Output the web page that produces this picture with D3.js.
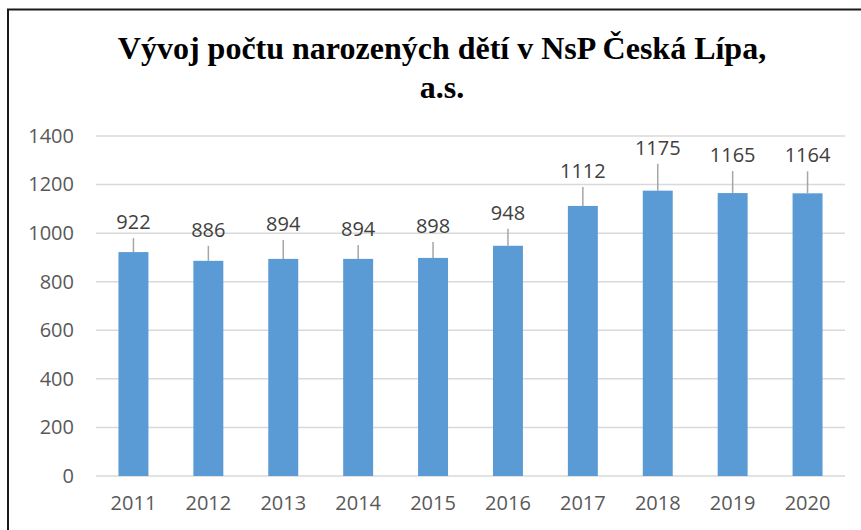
<!DOCTYPE html>
<html>
<head>
<meta charset="utf-8">
<script src="https://cdn.jsdelivr.net/npm/d3@7"></script>
<style>
  body { margin: 0; background: #fff; }
  svg { display: block; }
</style>
</head>
<body>
<svg id="chart" width="861" height="530"></svg>
<script>
var years = ['2011', '2012', '2013', '2014', '2015', '2016', '2017', '2018', '2019', '2020']
var births = [922, 886, 894, 894, 898, 948, 1112, 1175, 1165, 1164]
var yTicks = [0, 200, 400, 600, 800, 1000, 1200, 1400]
// how far each label was dragged above its bar (px), as in the original
var labelLift = [30, 31, 35, 30, 32, 33, 35, 43, 38, 38]

var svg = d3.select('#chart')
var plotLeft = 96, plotRight = 845, plotTop = 136, plotBottom = 476
var textColor = '#595959'
var font = "'Open Sans', sans-serif"

// frame
svg.append('rect')
    .attr('x', 8).attr('y', 9.5)
    .attr('width', 870).attr('height', 540)
    .attr('fill', 'none')
    .attr('stroke', '#1a1a1a')
    .attr('stroke-width', 2)

// title
var title = svg.append('text')
    .attr('text-anchor', 'middle')
    .attr('font-family', "'Liberation Serif', 'Times New Roman', serif")
    .attr('font-weight', 'bold')
    .attr('font-size', 32)
    .attr('fill', '#000')
title.append('tspan').attr('x', 442).attr('y', 59).text('Vývoj počtu narozených dětí v NsP Česká Lípa,')
title.append('tspan').attr('x', 442).attr('y', 98).text('a.s.')

var x = d3.scaleBand()
    .domain(years)
    .range([plotLeft, plotRight])
    .paddingInner(0.6)
    .paddingOuter(0.3)

var y = d3.scaleLinear()
    .domain([0, 1400])
    .range([plotBottom, plotTop])

// gridlines
svg.append('g').selectAll('line')
    .data(yTicks)
    .enter().append('line')
    .attr('x1', plotLeft).attr('x2', plotRight)
    .attr('y1', function(d){ return y(d) }).attr('y2', function(d){ return y(d) })
    .attr('stroke', '#d9d9d9')
    .attr('stroke-width', 1.5)

// y axis labels
var yAxis = svg.append('g')
    .attr('transform', 'translate(' + (plotLeft - 22) + ',0)')
    .call(d3.axisLeft(y).tickValues(yTicks).tickFormat(d3.format('d')).tickSize(0).tickPadding(0))
yAxis.select('.domain').remove()
yAxis.selectAll('text')
    .attr('font-family', font)
    .attr('font-size', 20)
    .attr('fill', textColor)

// x axis labels
var xAxis = svg.append('g')
    .attr('transform', 'translate(0,' + plotBottom + ')')
    .call(d3.axisBottom(x).tickSize(0).tickPadding(20))
xAxis.select('.domain').remove()
xAxis.selectAll('text')
    .attr('font-family', font)
    .attr('font-size', 20)
    .attr('fill', textColor)

// bars
svg.append('g').selectAll('rect')
    .data(births)
    .enter().append('rect')
    .attr('x', function(d, i){ return x(years[i]) })
    .attr('y', function(d){ return y(d) })
    .attr('width', x.bandwidth())
    .attr('height', function(d){ return y(0) - y(d) })
    .attr('fill', '#5b9bd5')

// leader lines + data labels
var labels = svg.append('g')
labels.selectAll('line')
    .data(births)
    .enter().append('line')
    .attr('x1', function(d, i){ return x(years[i]) + x.bandwidth() / 2 })
    .attr('x2', function(d, i){ return x(years[i]) + x.bandwidth() / 2 })
    .attr('y1', function(d, i){ return y(d) - labelLift[i] + 16 })
    .attr('y2', function(d){ return y(d) })
    .attr('stroke', '#a6a6a6')
    .attr('stroke-width', 1.5)

labels.selectAll('text')
    .data(births)
    .enter().append('text')
    .attr('x', function(d, i){ return x(years[i]) + x.bandwidth() / 2 })
    .attr('y', function(d, i){ return y(d) - labelLift[i] })
    .attr('dy', '0.35em')
    .attr('text-anchor', 'middle')
    .attr('font-family', font)
    .attr('font-size', 20)
    .attr('fill', '#404040')
    .text(function(d){ return d })
</script>
</body>
</html>
